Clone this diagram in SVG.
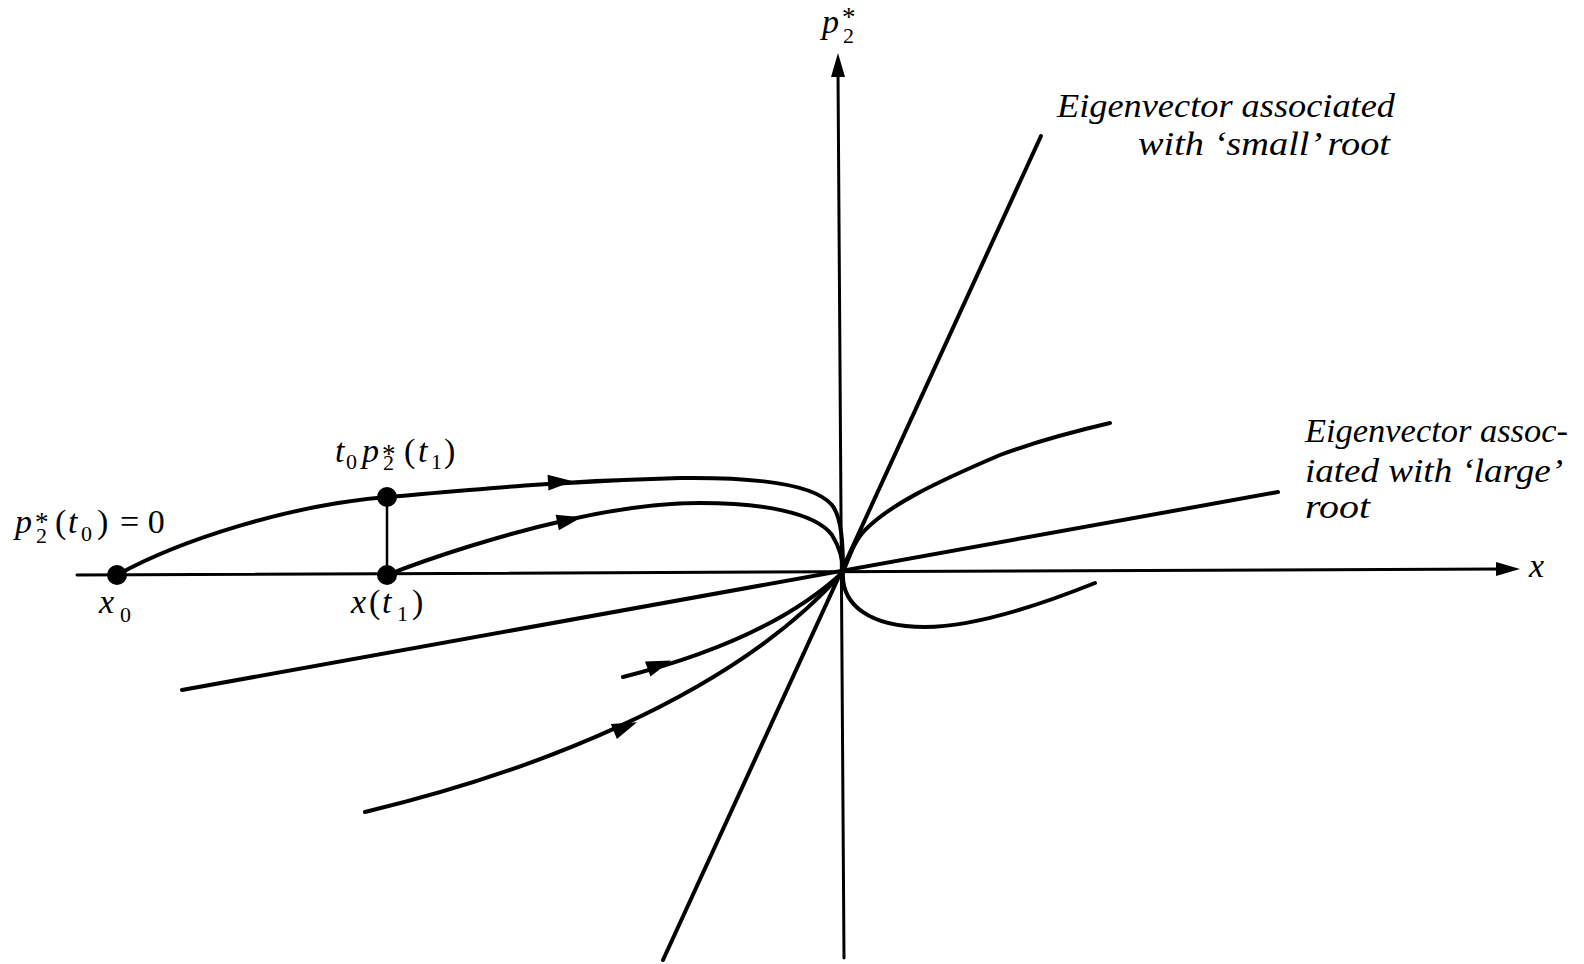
<svg xmlns="http://www.w3.org/2000/svg" width="1584" height="964" viewBox="0 0 1584 964">
<style>
.ln{fill:none;stroke:#000;stroke-linecap:round;stroke-linejoin:round}
.ax{stroke-width:3}
.cv{stroke-width:4}
.t{font-family:"Liberation Serif",serif;fill:#000;font-size:34px}
.i{font-style:italic}
.r{font-style:normal}
.s{font-size:22px;font-style:normal}
.st{font-size:27px;font-style:normal}
.lab{font-size:34px;font-style:italic}
</style>
<defs>
<path id="ah" d="M13,0 L-12,-8 L-12,8 Z" fill="#000"/>
<path id="axh" d="M0,0 L-24,-7 L-24,7 Z" fill="#000"/>
</defs>
<rect width="1584" height="964" fill="#fff"/>
<g id="axes">
<line class="ln ax" x1="77" y1="575" x2="1500" y2="569"/>
<use href="#axh" transform="translate(1520,569)"/>
<line class="ln ax" x1="844" y1="958" x2="838" y2="72"/>
<use href="#axh" transform="translate(838,53) rotate(-90)"/>
</g>
<g id="eigenvectors">
<line class="ln cv" x1="663" y1="960" x2="1041" y2="136"/>
<line class="ln cv" x1="182" y1="690" x2="1278" y2="492"/>
</g>
<g id="connectors">
<path class="ln cv" d="M117,575 C180,540 290,505 387,497 C480,489 560,481 680,478 C760,477 815,485 832,505 C842,518 843,545 843,572"/>
<path class="ln cv" d="M387,575 C430,558 500,535 567,520 C620,508 660,503 700,503 C760,503 815,512 832,535 C840,548 843,560 843,572"/>
<path class="ln cv" d="M843,572 C850,555 855,540 865,530 C890,505 930,485 1000,455 C1040,440 1080,430 1110,423"/>
<path class="ln cv" d="M843,572 C841,605 870,627 925,627 C975,627 1040,605 1095,583"/>
<path class="ln cv" d="M623,677 Q770,640 843,572"/>
<path class="ln cv" d="M365,812 C520,775 730,700 843,572"/>
<line class="ln" stroke-width="2.5" x1="387" y1="497" x2="387" y2="575"/>
<use href="#ah" transform="translate(560,482) rotate(-3)"/>
<use href="#ah" transform="translate(569,520) rotate(-12)"/>
<use href="#ah" transform="translate(659,665) rotate(-20)"/>
<use href="#ah" transform="translate(625,727) rotate(-22)"/>
</g>
<g id="points">
<circle cx="117" cy="575" r="10" fill="#000"/>
<circle cx="387" cy="575" r="10" fill="#000"/>
<circle cx="387" cy="497" r="10" fill="#000"/>
</g>
<g id="label-p2-axis">
<text class="t i"><tspan x="822" y="33">p</tspan><tspan class="st" x="842" y="26">*</tspan><tspan class="s" x="843" y="43">2</tspan></text>
</g>
<g id="label-x-axis">
<text class="t i" font-size="36" x="1529" y="577">x</text>
</g>
<g id="label-p2t0">
<text class="t i"><tspan x="15" y="533">p</tspan><tspan class="st" x="35" y="531">*</tspan><tspan class="s" x="36" y="543">2</tspan><tspan class="r" x="55" y="533">(</tspan><tspan x="68" y="533">t</tspan><tspan class="s" x="81" y="541">0</tspan><tspan class="r" x="97" y="533">)</tspan><tspan class="r" x="120" y="533">= 0</tspan></text>
</g>
<g id="label-t0p2t1">
<text class="t i"><tspan x="335" y="462">t</tspan><tspan class="s" x="346" y="469">0</tspan><tspan x="362" y="462">p</tspan><tspan class="st" x="382" y="463">*</tspan><tspan class="s" x="383" y="470">2</tspan><tspan class="r" x="404" y="462">(</tspan><tspan x="418" y="462">t</tspan><tspan class="s" x="431" y="469">1</tspan><tspan class="r" x="444" y="462">)</tspan></text>
</g>
<g id="label-x0">
<text class="t i"><tspan x="99" y="613">x</tspan><tspan class="s" x="120" y="622">0</tspan></text>
</g>
<g id="label-xt1">
<text class="t i"><tspan x="351" y="613">x</tspan><tspan class="r" x="369" y="613">(</tspan><tspan x="382" y="613">t</tspan><tspan class="s" x="397" y="621">1</tspan><tspan class="r" x="412" y="613">)</tspan></text>
</g>
<g id="label-small-root">
<text class="t lab" x="1057" y="117" textLength="338" lengthAdjust="spacingAndGlyphs">Eigenvector associated</text>
<text class="t lab" x="1138" y="155" textLength="252" lengthAdjust="spacingAndGlyphs">with ‘small’ root</text>
</g>
<g id="label-large-root">
<text class="t lab" x="1305" y="442" textLength="263" lengthAdjust="spacingAndGlyphs">Eigenvector assoc-</text>
<text class="t lab" x="1305" y="482" textLength="258" lengthAdjust="spacingAndGlyphs">iated with ‘large’</text>
<text class="t lab" x="1305" y="518" textLength="65" lengthAdjust="spacingAndGlyphs">root</text>
</g>
</svg>
